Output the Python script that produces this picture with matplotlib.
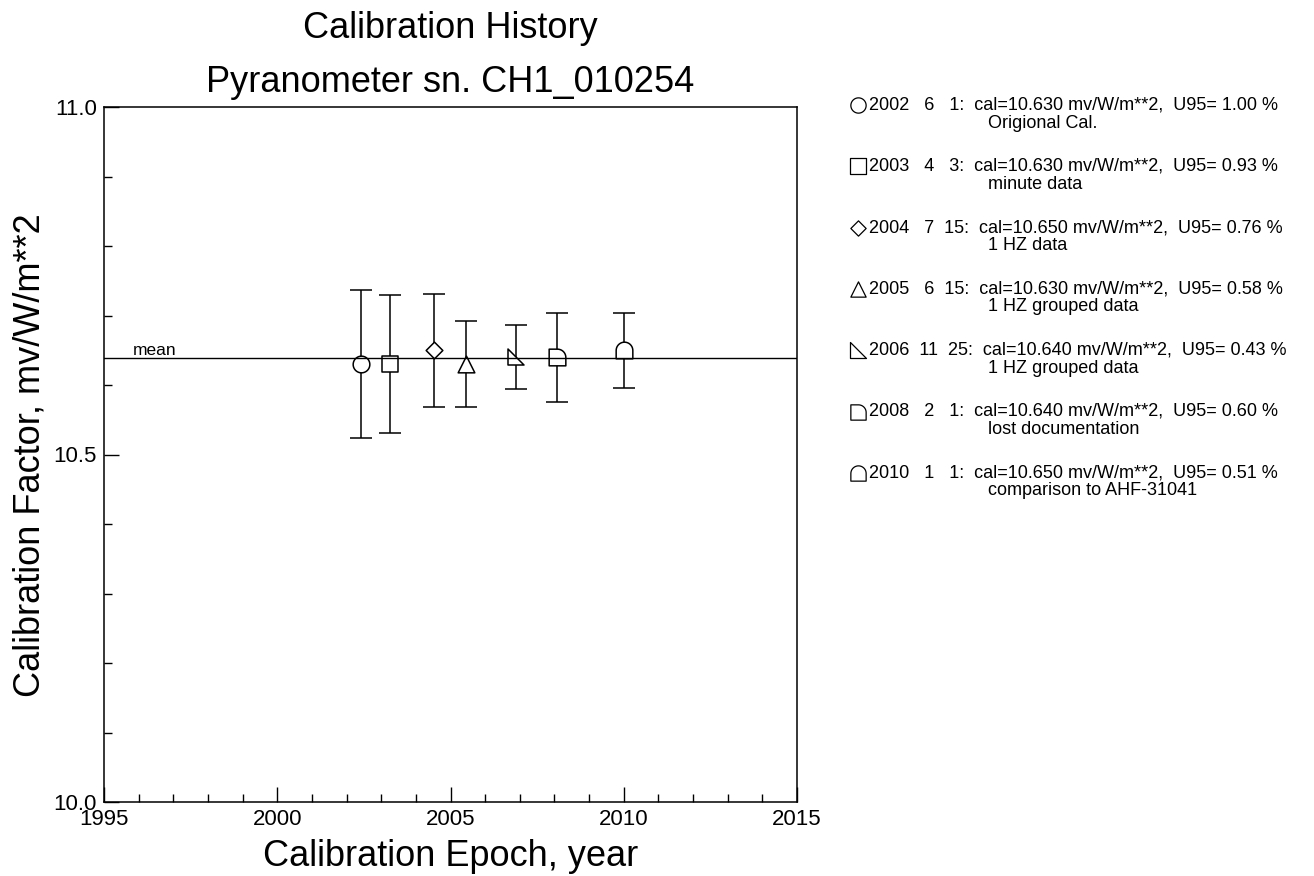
import numpy as np
import matplotlib
matplotlib.use("Agg")
import matplotlib.pyplot as plt
from matplotlib.path import Path
from datetime import date

plt.rcParams['font.family'] = ['Liberation Sans', 'DejaVu Sans']

# calibration records
years = [2002, 2003, 2004, 2005, 2006, 2008, 2010]
months = [6, 4, 7, 6, 11, 2, 1]
days = [1, 3, 15, 15, 25, 1, 1]
cal = [10.630, 10.630, 10.650, 10.630, 10.640, 10.640, 10.650]
u95 = [1.00, 0.93, 0.76, 0.58, 0.43, 0.60, 0.51]
notes = ["Origional Cal.", "minute data", "1 HZ data", "1 HZ grouped data",
         "1 HZ grouped data", "lost documentation", "comparison to AHF-31041"]


# custom marker shapes
def arc_pts(t0, t1, n=20):
    t = np.radians(np.linspace(t0, t1, n))
    return list(zip(np.cos(t), np.sin(t)))


def poly(pts):
    pts = list(pts) + [pts[0]]
    codes = [Path.MOVETO] + [Path.LINETO] * (len(pts) - 2) + [Path.CLOSEPOLY]
    return Path(pts, codes)


m_circle = poly(arc_pts(0, 360, 60)[:-1])
m_square = poly([(-1, -1), (1, -1), (1, 1), (-1, 1)])
m_diamond = poly([(0, -1), (1, 0), (0, 1), (-1, 0)])
m_triangle = poly([(-1, -1), (1, -1), (0, 1)])
m_rtri = poly([(-1, 1), (-1, -1), (1, -1)])
m_quarter = poly([(-1, -1), (-1, 1), (0, 1)] + arc_pts(90, 0)[1:] + [(1, -1)])
m_dome = poly([(-1, -1), (-1, 0)] + arc_pts(180, 0)[1:] + [(1, -1)])
markers = [m_circle, m_square, m_diamond, m_triangle, m_rtri, m_quarter, m_dome]

# decimal year of each calibration
epoch = [y + (date(y, m, d).timetuple().tm_yday - 1) / 365.0
         for y, m, d in zip(years, months, days)]
err = [c * u / 100.0 for c, u in zip(cal, u95)]
mean_cal = np.mean(cal)

W, H = 1314, 876
fig = plt.figure(figsize=(W / 100, H / 100), dpi=100)
ax = fig.add_axes([104 / W, 1 - 802 / H, (797 - 104) / W, (802 - 107) / H])

ax.errorbar(epoch, cal, yerr=err, fmt='none', ecolor='black',
            elinewidth=1.1, capsize=8, capthick=1.1, zorder=2)
for x, c, mk in zip(epoch, cal, markers):
    ax.plot(x, c, linestyle='none', marker=mk, markersize=12,
            markerfacecolor='white', markeredgecolor='black',
            markeredgewidth=1.1, zorder=3)
ax.axhline(mean_cal, color='black', lw=1.0, zorder=4)
ax.text(1995.83, mean_cal + 0.005, "mean", fontsize=12.5, ha='left', va='baseline')

ax.set_xlim(1995, 2015)
ax.set_ylim(10.0, 11.0)
ax.set_xticks([1995, 2000, 2005, 2010, 2015])
ax.set_xticks(np.arange(1995, 2016, 1), minor=True)
ax.set_yticks([10.0, 10.5, 11.0])
ax.set_yticklabels(["10.0", "10.5", "11.0"])
ax.set_yticks(np.arange(10.0, 11.01, 0.1), minor=True)
ax.tick_params(which='both', direction='in', top=False, right=False,
               labelsize=16, width=1.0, color='black')
ax.tick_params(which='major', length=11, pad=5)
ax.tick_params(which='minor', length=6)
for s in ax.spines.values():
    s.set_linewidth(1.1)

cx = (104 + 797) / 2 / W
fig.text(cx, 1 - 38 / H, "Calibration History", fontsize=26,
         ha='center', va='baseline')
fig.text(cx, 1 - 92 / H, "Pyranometer sn. CH1_010254", fontsize=26,
         ha='center', va='baseline')
fig.text(cx, 1 - 866 / H, "Calibration Epoch, year", fontsize=26,
         ha='center', va='baseline')
fig.text(30 / W, 1 - 455 / H, "Calibration Factor, mv/W/m**2", fontsize=26,
         ha='center', va='center', rotation=90)

# legend panel, laid out in pixel units
lax = fig.add_axes([0, 0, 1, 1], facecolor='none')
lax.set_xlim(0, W)
lax.set_ylim(H, 0)
lax.axis('off')
row0, dy = 105, 61.3
for i in range(len(years)):
    yy = row0 + i * dy
    lax.plot(858, yy, linestyle='none', marker=markers[i], markersize=11,
             markerfacecolor='none', markeredgecolor='black', markeredgewidth=0.9)
    line1 = f"{years[i]:4d} {months[i]:3d} {days[i]:3d}:  cal={cal[i]:.3f} mv/W/m**2,  U95={u95[i]:5.2f} %"
    lax.text(869, yy, line1, fontsize=13, ha='left', va='center')
    lax.text(988, yy + 18, notes[i], fontsize=13, ha='left', va='center')

fig.savefig("out.png", dpi=100)
